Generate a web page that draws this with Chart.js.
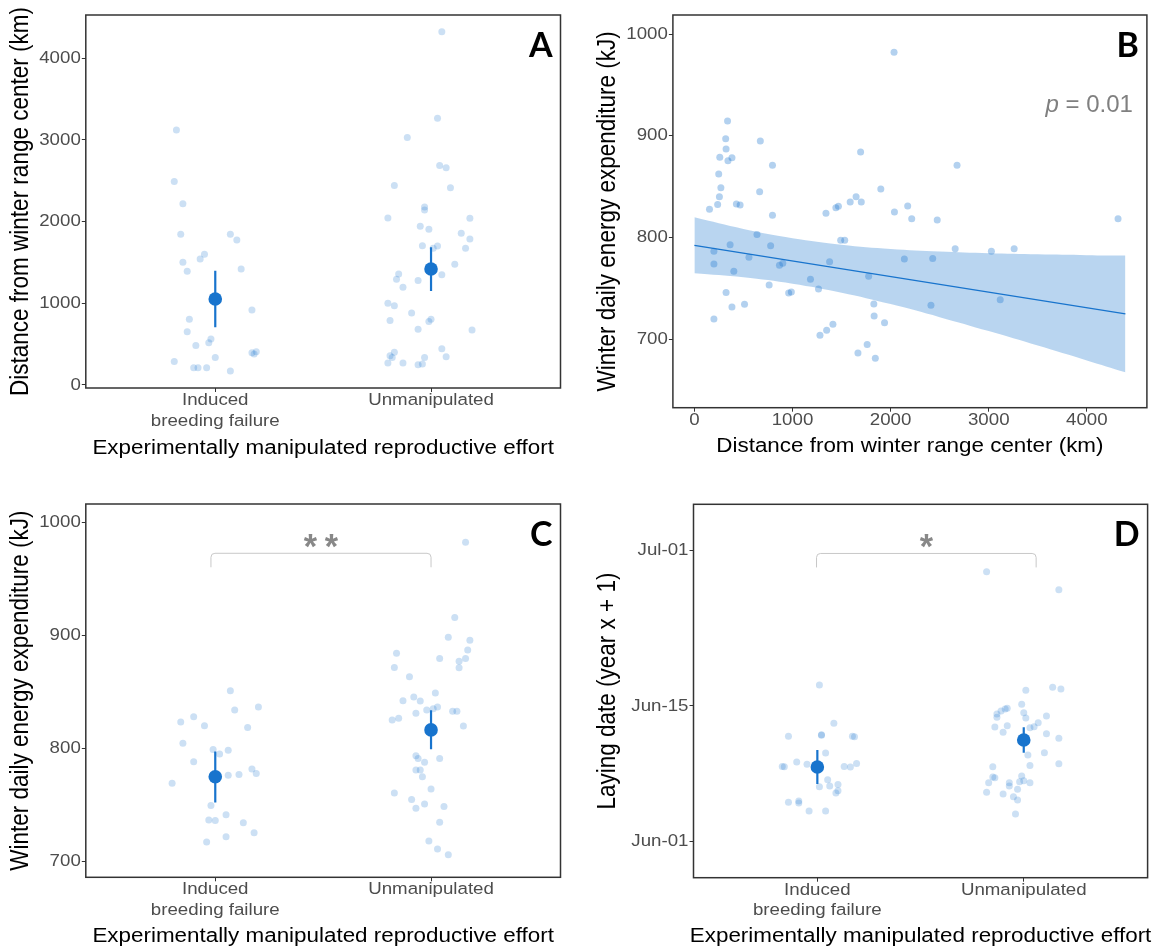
<!DOCTYPE html>
<html><head><meta charset="utf-8">
<script src="https://cdn.jsdelivr.net/npm/chart.js@4.4.1/dist/chart.umd.min.js"></script>
<style>
html,body{margin:0;padding:0;background:#fff;}
#wrap{position:relative;width:1158px;height:951px;overflow:hidden;background:#fff}
canvas{position:absolute}
</style></head><body>
<div id="wrap">
<canvas id="cA" width="580" height="476" style="left:0px;top:0px"></canvas>
<canvas id="cB" width="578" height="476" style="left:580px;top:0px"></canvas>
<canvas id="cC" width="580" height="475" style="left:0px;top:476px"></canvas>
<canvas id="cD" width="578" height="475" style="left:580px;top:476px"></canvas>
</div>
<script>
// ---------------- DATA ----------------
const categories = [["Induced", "breeding failure"], ["Unmanipulated"]];

// Panel A: distance from winter range center (km)
const aIndX = [-0.18,-0.19,-0.15,-0.16,-0.15,-0.13,-0.07,-0.05,0.07,0.10,0.12,0.17,-0.12,-0.13,-0.09,-0.02,-0.03,0.00,-0.19,-0.10,-0.08,-0.04,0.07,0.17,0.19,0.18];
const aIndY = [3122,2490,2220,1845,1502,1392,1543,1600,1845,1775,1420,918,804,653,482,563,518,335,286,212,212,212,171,396,408,380];
const aUnX = [0.05,0.03,-0.11,0.04,0.07,-0.17,0.09,-0.20,-0.03,-0.03,-0.05,-0.01,0.18,0.14,0.18,-0.04,0.03,0.01,0.16,0.11,-0.15,-0.16,-0.13,-0.06,0.05,-0.20,-0.17,-0.09,-0.19,-0.01,0.00,-0.06,0.19,0.05,0.07,-0.19,-0.17,-0.18,-0.20,-0.13,-0.06,-0.04,-0.03];
const aUnY = [4326,3265,3029,2686,2661,2441,2416,2045,2180,2143,1943,1906,2041,1857,1788,1706,1702,1673,1673,1478,1359,1294,1196,1278,1351,1000,971,882,788,776,804,682,673,445,347,359,400,335,269,269,249,257,335];
const aMean = [1053, 1420];
const aLo = [706, 1151];
const aHi = [1400, 1686];
const aTicks = [0, 1000, 2000, 3000, 4000];

// Panel B: energy vs distance
const bX = [2035,338,319,323,672,259,383,342,1694,2677,796,248,270,665,255,237,154,428,466,1900,1648,1588,1701,1442,1468,1341,2039,2174,2215,2475,796,4318,638,1491,1532,364,777,199,2658,3027,3259,199,556,1378,867,901,2140,2429,402,1776,1183,1265,762,323,961,988,383,511,1829,2411,3117,199,1832,1938,1412,1348,1280,1761,1667,1844];
const bY = [982,914.5,897,887,895,879,878.5,875.5,884,871,871,862.5,849,845,840,832.6,827.7,833,832,847.7,840,835,835,829.4,830.7,823.8,825,831,818.6,817.3,822,818.6,803,797.3,797.3,793,792,786.5,789,786.5,789,774,780.6,776.3,772.7,774.7,779,779.3,767,762,759,749.5,753.4,746,745.5,746.5,731.8,734.4,734.7,733.4,739,720,723,716.4,714.8,709,704,694.8,686.6,681.3];
const bFitX = [0, 4393];
const bFitY = [792.4, 725.0];
const bBandX = [0, 500, 1000, 1500, 2000, 2500, 3000, 3500, 4000, 4393];
const bBandUpper = [819.9, 808.5, 799.4, 793.0, 788.8, 786.2, 784.5, 783.5, 782.7, 782.3];
const bBandLower = [764.9, 760.9, 754.6, 745.8, 734.6, 721.8, 708.1, 693.9, 679.3, 667.7];
const bXTicks = [0, 1000, 2000, 3000, 4000];
const bYTicks = [700, 800, 900, 1000];

// Panel C: winter daily energy expenditure (kJ)
const cIndX = [0.07,0.20,0.09,-0.16,-0.10,-0.05,0.15,-0.15,-0.01,0.02,0.06,-0.10,0.06,0.11,0.17,0.19,-0.20,-0.02,-0.03,0.00,0.05,0.13,0.18,0.05,-0.04];
const cIndY = [851,836.6,834,823.4,828,820,818.4,804.5,799,795,798.3,788,776,776.8,781.6,777.7,769,749.2,736.5,736,741,733.9,725,721.5,717];
const cUnX = [0.16,0.11,0.08,0.18,0.17,-0.16,0.04,0.13,0.16,0.13,-0.17,-0.10,-0.08,0.02,-0.13,-0.05,-0.02,0.01,0.03,-0.07,0.10,0.12,-0.18,-0.15,0.15,-0.07,-0.06,-0.03,0.04,-0.07,-0.05,-0.04,0.00,-0.17,-0.09,-0.03,-0.07,0.06,0.04,-0.01,0.03,0.08];
const cUnY = [982.6,916,898.4,895.8,887.2,884.3,879.6,877.2,879.6,871.3,871.6,863.4,845.4,849,842.2,841.9,834,835.1,836.6,831,832.8,832.8,825.1,826.6,819.8,793.3,791,787.7,791,780.7,780.7,774.8,763.9,760.4,754.5,750.6,746.8,748.3,734.4,717.7,710.6,705.6];
const cMean = [774.8, 816.3];
const cLo = [752.0, 799.2];
const cHi = [797.2, 833.7];
const cTicks = [700, 800, 900, 1000];
const cBracket = [0.98, 2.0, 972.9, 960.5];
const cStars = "**";

// Panel D: laying date (days after Jun-01)
const dIndX = [0.01,0.08,-0.14,0.02,0.02,0.17,0.18,0.04,-0.10,-0.05,-0.17,-0.16,0.13,0.16,0.19,0.05,0.10,0.06,0.01,0.09,0.10,-0.14,-0.09,-0.09,-0.04,0.04];
const dIndY = [16.16,12.21,10.87,11.04,10.97,10.87,10.83,9.15,8.22,7.98,7.77,7.74,7.77,7.70,8.08,6.40,5.91,5.74,5.67,5.02,5.26,4.06,4.20,3.99,3.16,3.16];
const dUnX = [-0.18,0.17,0.01,0.14,0.18,-0.01,-0.08,-0.09,-0.11,-0.13,-0.13,0.00,0.01,0.11,0.07,0.05,0.03,-0.14,-0.08,-0.10,0.11,0.17,0.10,0.02,0.17,0.03,-0.15,-0.15,-0.14,-0.17,-0.07,-0.07,-0.01,-0.02,0.00,0.03,-0.03,-0.18,-0.10,-0.05,-0.03,-0.04];
const dUnY = [27.85,26.0,15.61,15.92,15.75,14.17,13.76,13.69,13.48,13.17,12.83,13.31,12.76,12.96,12.28,11.86,11.76,11.83,11.97,11.28,11.14,10.66,9.18,8.94,8.05,7.87,7.74,6.67,6.60,6.09,6.09,5.74,6.77,6.19,6.29,6.09,5.40,5.09,4.92,4.64,4.30,2.85];
const dMean = [7.70, 10.49];
const dLo = [5.95, 9.18];
const dHi = [9.46, 11.80];
const dTicks = [0, 14, 30];
const dTickLabels = ["Jun-01", "Jun-15", "Jul-01"];
const dBracket = [0.996, 2.06, 29.73, 28.29];
const dStars = "*";

// ---------------- STYLE ----------------
const FONT = "'Liberation Sans', Arial, sans-serif";
const BLUE = '#1874CD';
const JIT = 'rgba(24,116,205,0.22)';
const PTB = 'rgba(24,116,205,0.33)';
const BAND = 'rgba(24,116,205,0.30)';

// The reference's axis text is horizontally wider than its height suggests:
// stretch library-drawn text horizontally around its anchor point.
const STRETCH = 1.12;
let stretchOn = true;
const origFill = CanvasRenderingContext2D.prototype.fillText;
CanvasRenderingContext2D.prototype.fillText = function (text, x, y, maxWidth) {
  if (!stretchOn) {
    return maxWidth === undefined ? origFill.call(this, text, x, y) : origFill.call(this, text, x, y, maxWidth);
  }
  const m = this.getTransform();
  const p = m.transformPoint(new DOMPoint(x, y));
  this.save();
  this.setTransform(new DOMMatrix().translate(p.x, p.y).scale(STRETCH, 1).translate(-p.x, -p.y).multiply(m));
  if (maxWidth === undefined) origFill.call(this, text, x, y); else origFill.call(this, text, x, y, maxWidth);
  this.restore();
};

function jitterData(xs, ys, g) { return ys.map((v, i) => ({x: g + xs[i], y: v})); }

function overlayPlugin(cfg) {
  return {
    id: 'overlay' + cfg.letter,
    afterDatasetsDraw(chart) {
      const {ctx, chartArea: a, scales} = chart;
      const x = scales.x, y = scales.y;
      stretchOn = false;
      ctx.save();
      if (cfg.bracket) {
        const [x1, x2, yT, yB] = cfg.bracket;
        const p1 = x.getPixelForValue(x1), p2 = x.getPixelForValue(x2);
        const pT = y.getPixelForValue(yT), pB = y.getPixelForValue(yB);
        const r = 4;
        ctx.strokeStyle = '#c8c8c8'; ctx.lineWidth = 1;
        ctx.beginPath();
        ctx.moveTo(p1, pB);
        ctx.arcTo(p1, pT, p1 + r, pT, r);
        ctx.arcTo(p2, pT, p2, pT + r, r);
        ctx.lineTo(p2, pB);
        ctx.stroke();
        ctx.font = 'bold 100px ' + FONT;
        let m = ctx.measureText('*');
        const hh = m.actualBoundingBoxAscent + m.actualBoundingBoxDescent;
        const size = 100 * 13 / hh;
        ctx.font = 'bold ' + size.toFixed(2) + 'px ' + FONT;
        m = ctx.measureText('*');
        const cy = pT - 12.3;
        const base = cy + (m.actualBoundingBoxAscent - m.actualBoundingBoxDescent) / 2;
        const cx = (p1 + p2) / 2;
        const n = cfg.stars.length;
        ctx.fillStyle = '#888888'; ctx.textAlign = 'center'; ctx.textBaseline = 'alphabetic';
        for (let i = 0; i < n; i++) {
          ctx.fillText('*', cx + (i - (n - 1) / 2) * 21, base);
        }
      }
      if (cfg.pval) {
        ctx.fillStyle = '#808080'; ctx.textBaseline = 'alphabetic'; ctx.textAlign = 'left';
        ctx.font = 'italic 24px ' + FONT;
        const w1 = ctx.measureText('p').width;
        ctx.font = '24px ' + FONT;
        const rest = ' = ' + cfg.pval;
        const w2 = ctx.measureText(rest).width;
        const xs = a.right - 14 - w1 - w2, yb = a.top + 96.7;
        ctx.font = 'italic 24px ' + FONT;
        ctx.fillText('p', xs, yb);
        ctx.font = '24px ' + FONT;
        ctx.fillText(rest, xs + w1, yb);
      }
      ctx.strokeStyle = '#333333'; ctx.lineWidth = 1.5;
      ctx.strokeRect(a.left, a.top, a.right - a.left, a.bottom - a.top);
      ctx.fillStyle = '#000'; ctx.textAlign = 'right'; ctx.textBaseline = 'alphabetic';
      ctx.font = 'bold 34px Lato, ' + FONT;
      ctx.fillText(cfg.letter, a.right - 8, a.top + 42);
      ctx.restore();
      stretchOn = true;
    }
  };
}

function axisCommon() {
  return {
    grid: {display: true, drawOnChartArea: false, drawTicks: true, tickLength: 4, color: '#333333', lineWidth: 1},
    border: {display: false}
  };
}

function makeChart(id, g, datasets, xcfg, ycfg, ov) {
  const xAxis = Object.assign(axisCommon(), {
    type: 'linear', min: xcfg.min, max: xcfg.max,
    afterBuildTicks: s => { s.ticks = xcfg.ticks.map(v => ({value: v})); },
    afterFit: s => { s.height = g.h - g.bottom; },
    ticks: {color: '#4d4d4d', font: {family: FONT, size: 16.7, lineHeight: 1.24}, padding: -1.9,
            maxRotation: 0, minRotation: 0, autoSkip: false, callback: xcfg.label},
    title: {display: true, text: xcfg.title, color: '#000', font: {family: FONT, size: 20, lineHeight: 1.2},
            padding: {top: 0, bottom: g.xpad}}
  });
  const yAxis = Object.assign(axisCommon(), {
    type: 'linear', min: ycfg.min, max: ycfg.max,
    afterBuildTicks: s => { s.ticks = ycfg.ticks.map(v => ({value: v})); },
    afterFit: s => { s.width = g.left; },
    ticks: {color: '#4d4d4d', font: {family: FONT, size: 16.7}, padding: 1, callback: ycfg.label},
    title: {display: true, text: ycfg.title, color: '#000', font: {family: FONT, size: 22.5, lineHeight: 1.2},
            padding: {top: g.ypad, bottom: 0}}
  });
  return new Chart(document.getElementById(id), {
    type: 'scatter',
    data: {datasets},
    options: {
      responsive: false, animation: false, devicePixelRatio: 1,
      layout: {padding: {left: 0, top: g.top, right: g.w - g.right, bottom: 0}},
      plugins: {legend: {display: false}, tooltip: {enabled: false}},
      scales: {x: xAxis, y: yAxis}
    },
    plugins: [overlayPlugin(ov)]
  });
}

function groupDatasets(indX, indY, unX, unY, mean, lo, hi) {
  const ds = [];
  ds.push({data: [{x: 1, y: mean[0]}, {x: 2, y: mean[1]}], pointRadius: 6.8, pointBackgroundColor: BLUE,
           backgroundColor: BLUE, pointBorderWidth: 0, borderWidth: 0});
  for (let k = 0; k < 2; k++) {
    ds.push({type: 'line', data: [{x: k + 1, y: lo[k]}, {x: k + 1, y: hi[k]}], borderColor: BLUE,
             borderWidth: 2.2, pointRadius: 0, fill: false, borderCapStyle: 'butt'});
  }
  ds.push({data: jitterData(indX, indY, 1), pointRadius: 3.5, backgroundColor: JIT, pointBackgroundColor: JIT, pointBorderWidth: 0, borderWidth: 0});
  ds.push({data: jitterData(unX, unY, 2), pointRadius: 3.5, backgroundColor: JIT, pointBackgroundColor: JIT, pointBorderWidth: 0, borderWidth: 0});
  return ds;
}

const catX = (title) => ({min: 0.4, max: 2.6, ticks: [1, 2], label: v => categories[Math.round(v) - 1], title});
const xTitleRep = 'Experimentally manipulated reproductive effort';

makeChart('cA', {w: 580, h: 476, left: 85.8, right: 560.5, top: 15, bottom: 388, xpad: 16, ypad: 7.5},
  groupDatasets(aIndX, aIndY, aUnX, aUnY, aMean, aLo, aHi),
  catX(xTitleRep),
  {min: -37, max: 4530, ticks: aTicks, label: v => String(v), title: 'Distance from winter range center (km)'},
  {letter: 'A'});

makeChart('cB', {w: 578, h: 476, left: 92.9, right: 566.9, top: 15, bottom: 407.7, xpad: 17.3, ypad: 14.1},
  [
    {type: 'line', data: bFitX.map((v, i) => ({x: v, y: bFitY[i]})), borderColor: BLUE, borderWidth: 1.2, pointRadius: 0, fill: false},
    {data: bX.map((v, i) => ({x: v, y: bY[i]})), pointRadius: 3.5, backgroundColor: PTB, pointBackgroundColor: PTB, pointBorderWidth: 0, borderWidth: 0},
    {type: 'line', data: bBandX.map((v, i) => ({x: v, y: bBandUpper[i]})), borderWidth: 0, borderColor: 'rgba(0,0,0,0)', pointRadius: 0, fill: false, tension: 0.4},
    {type: 'line', data: bBandX.map((v, i) => ({x: v, y: bBandLower[i]})), borderWidth: 0, borderColor: 'rgba(0,0,0,0)', pointRadius: 0, fill: 2, backgroundColor: BAND, tension: 0.4}
  ],
  {min: -219, max: 4612, ticks: bXTicks, label: v => String(v), title: 'Distance from winter range center (km)'},
  {min: 632.8, max: 1018.7, ticks: bYTicks, label: v => String(v), title: 'Winter daily energy expenditure (kJ)'},
  {letter: 'B', pval: '0.01'});

makeChart('cC', {w: 580, h: 475, left: 85.8, right: 560.5, top: 28, bottom: 401.3, xpad: 2.3, ypad: 7.5},
  groupDatasets(cIndX, cIndY, cUnX, cUnY, cMean, cLo, cHi),
  catX(xTitleRep),
  {min: 685.6, max: 1016.6, ticks: cTicks, label: v => String(v), title: 'Winter daily energy expenditure (kJ)'},
  {letter: 'C', bracket: cBracket, stars: cStars});

makeChart('cD', {w: 578, h: 475, left: 113.5, right: 567.6, top: 28.3, bottom: 401.7, xpad: 2.3, ypad: 14.1},
  groupDatasets(dIndX, dIndY, dUnX, dUnY, dMean, dLo, dHi),
  catX(xTitleRep),
  {min: -3.71, max: 34.8, ticks: dTicks, label: v => dTickLabels[dTicks.indexOf(v)], title: 'Laying date (year x + 1)'},
  {letter: 'D', bracket: dBracket, stars: dStars});
</script>
</body></html>
